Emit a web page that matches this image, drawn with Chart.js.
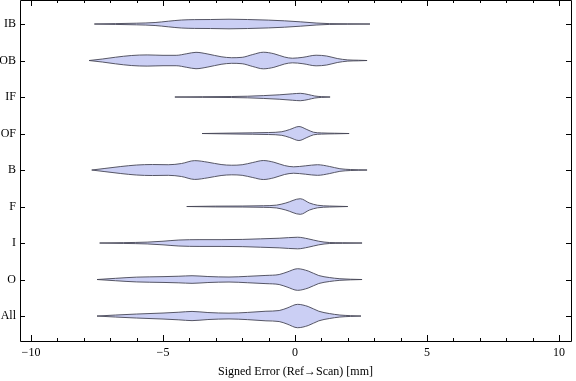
<!DOCTYPE html>
<html><head><meta charset="utf-8">
<script src="https://cdn.jsdelivr.net/npm/chart.js@4"></script>
<style>html,body{margin:0;padding:0;background:#fff}canvas{display:block}</style>
</head><body>
<canvas id="c" width="576" height="381"></canvas>
<script>
// categories, bottom to top
const categories = ['All','O','I','F','B','OF','IF','OB','IB'];
const xTickValues = [-10,-9,-8,-7,-6,-5,-4,-3,-2,-1,0,1,2,3,4,5,6,7,8,9,10];
const xLabelValues = [-10,-5,0,5,10];
const axisTitle = 'Signed Error (Ref\u2192Scan) [mm]';

// violin profiles: signed error (x) and relative density (half-width)
const xAll = [-7.5,-6.8,-6.0,-5.0,-4.4,-3.9,-3.3,-2.5,-1.8,-1.1,-0.6,-0.3,0.1,0.5,0.9,1.3,1.7,2.1,2.5];
const dAll = [0,1.0,2.0,3.0,3.8,4.6,3.5,2.9,3.6,4.8,5.5,8.0,11.7,9.5,4.8,2.5,1.0,0.4,0];
const xO = [-7.5,-6.8,-6.0,-5.0,-4.4,-3.9,-3.3,-2.5,-1.8,-1.1,-0.6,-0.3,0.1,0.5,0.9,1.3,1.7,2.1,2.54];
const dO = [0,1.2,2.4,2.9,3.3,3.8,3.0,2.5,3.2,4.1,5.0,7.5,10.8,8.5,4.0,2.0,0.8,0.3,0];
const xI = [-7.4,-6.5,-5.6,-5.0,-4.4,-3.6,-2.8,-2.0,-1.3,-0.6,0.1,0.5,0.9,1.3,1.8,2.54];
const dI = [0,0.4,0.9,1.8,3.0,3.4,3.4,3.6,4.2,4.8,5.8,4.2,1.8,0.5,0.3,0];
const xF = [-4.1,-3.0,-2.0,-1.2,-0.7,-0.35,0.2,0.55,0.85,1.3,2.0];
const dF = [0,0.4,0.5,0.8,1.4,3.5,7.8,3.5,1.3,0.5,0];
const xB = [-7.7,-7.2,-6.6,-6.0,-5.4,-4.8,-4.3,-3.8,-3.3,-2.8,-2.4,-2.0,-1.6,-1.2,-0.8,-0.4,-0.05,0.4,0.85,1.3,1.7,2.1,2.73];
const dB = [0,1.6,3.5,5.0,5.5,5.3,6.5,9.4,7.8,5.5,4.8,5.3,7.5,9.5,7.8,4.5,3.2,4.2,5.3,3.6,1.3,0.5,0];
const xOF = [-3.52,-2.5,-1.6,-1.0,-0.5,-0.2,0.15,0.45,0.7,1.0,1.5,2.05];
const dOF = [0,0.4,0.7,1.0,1.8,4.0,7.0,4.0,1.3,0.6,0.3,0];
const xIF = [-4.55,-3.5,-2.4,-1.8,-1.2,-0.6,-0.1,0.2,0.5,0.75,1.0,1.33];
const dIF = [0,0.3,0.5,0.8,1.4,2.2,3.2,3.7,2.5,1.0,0.4,0];
const xOB = [-7.8,-7.3,-6.8,-6.2,-5.6,-5.0,-4.5,-4.1,-3.75,-3.3,-2.8,-2.4,-2.0,-1.6,-1.2,-0.8,-0.4,-0.1,0.3,0.8,1.2,1.6,2.0,2.4,2.73];
const dOB = [0,1.5,3.3,5.0,5.6,5.2,5.2,6.8,8.2,6.5,3.8,2.8,3.2,6.0,8.3,6.8,3.5,2.3,3.2,5.3,4.5,2.0,0.6,0.3,0];
const xIB = [-7.6,-6.8,-6.0,-5.3,-4.8,-4.3,-3.8,-3.2,-2.5,-1.8,-1.0,-0.4,0.2,0.8,1.3,2.0,2.84];
const dIB = [0,0.4,0.8,1.5,2.8,4.0,4.4,4.5,4.8,4.5,3.9,3.2,2.2,1.0,0.4,0.2,0];

const profiles = [[xAll,dAll],[xO,dO],[xI,dI],[xF,dF],[xB,dB],[xOF,dOF],[xIF,dIF],[xOB,dOB],[xIB,dIB]];
const densityScale = 1/36.5;

const FILL = 'rgb(203,207,244)';
const EDGE = 'rgba(70,70,85,0.9)';
const FONT = {family:'"Liberation Serif","Times New Roman",serif', size:12};

const datasets = [];
profiles.forEach(([xs, ds], i) => {
  const pos = i + 1;
  const common = {type:'line', pointRadius:0, borderColor:EDGE, borderWidth:1,
                  cubicInterpolationMode:'monotone', tension:0.4};
  datasets.push(Object.assign({}, common, {
    label: categories[i] + ' upper',
    data: xs.map((x, k) => ({x, y: pos + ds[k]*densityScale})),
    fill: false
  }));
  datasets.push(Object.assign({}, common, {
    label: categories[i] + ' lower',
    data: xs.map((x, k) => ({x, y: pos - ds[k]*densityScale})),
    fill: '-1', backgroundColor: FILL
  }));
});

const fmt = v => v < 0 ? '\u2212' + Math.abs(v) : String(v);

const framePlugin = {
  id: 'frame',
  afterDatasetsDraw(chart) {
    const {ctx, chartArea: a, scales: {x, y}} = chart;
    ctx.save();
    ctx.strokeStyle = '#000';
    ctx.lineWidth = 1;
    ctx.beginPath();
    x.ticks.forEach(t => {
      const px = Math.round(x.getPixelForValue(t.value)) + 0.5;
      const len = xLabelValues.includes(t.value) ? 6 : 3;
      ctx.moveTo(px, a.bottom); ctx.lineTo(px, a.bottom - len);
      ctx.moveTo(px, a.top); ctx.lineTo(px, a.top + len);
    });
    y.ticks.forEach(t => {
      const py = Math.round(y.getPixelForValue(t.value)) + 0.5;
      ctx.moveTo(a.left, py); ctx.lineTo(a.left + 5, py);
      ctx.moveTo(a.right, py); ctx.lineTo(a.right - 5, py);
    });
    ctx.stroke();
    ctx.beginPath();
    ctx.rect(a.left + 0.5, a.top + 0.5, a.right - a.left, a.bottom - a.top);
    ctx.stroke();
    ctx.restore();
  }
};

new Chart(document.getElementById('c'), {
  type: 'line',
  data: {datasets},
  options: {
    responsive: false,
    animation: false,
    devicePixelRatio: 1,
    layout: {padding: {top: 0, right: 5, left: 0, bottom: 0}},
    plugins: {legend: {display: false}, tooltip: {enabled: false}},
    scales: {
      x: {
        type: 'linear', min: -10.417, max: 10.455,
        grid: {display: false, drawTicks: false},
        border: {display: false},
        afterBuildTicks: s => { s.ticks = xTickValues.map(v => ({value: v})); },
        afterFit: s => { s.height = 40; s.paddingLeft = 0; s.paddingRight = 0; },
        ticks: {autoSkip: false, maxRotation: 0, padding: 5, color: '#000', font: FONT,
                callback: v => xLabelValues.includes(v) ? fmt(v) : ''},
        title: {display: true, text: axisTitle, color: '#000', font: FONT, padding: {top: 0, bottom: 2}}
      },
      y: {
        type: 'linear', min: 0.316, max: 9.658,
        grid: {display: false, drawTicks: false},
        border: {display: false},
        afterBuildTicks: s => { s.ticks = categories.map((c, i) => ({value: i + 1})); },
        afterFit: s => { s.width = 20; s.paddingTop = 0; s.paddingBottom = 0; },
        ticks: {autoSkip: false, padding: 4, color: '#000', font: FONT,
                callback: v => categories[Math.round(v) - 1]}
      }
    }
  },
  plugins: [framePlugin]
});
</script>
</body></html>
